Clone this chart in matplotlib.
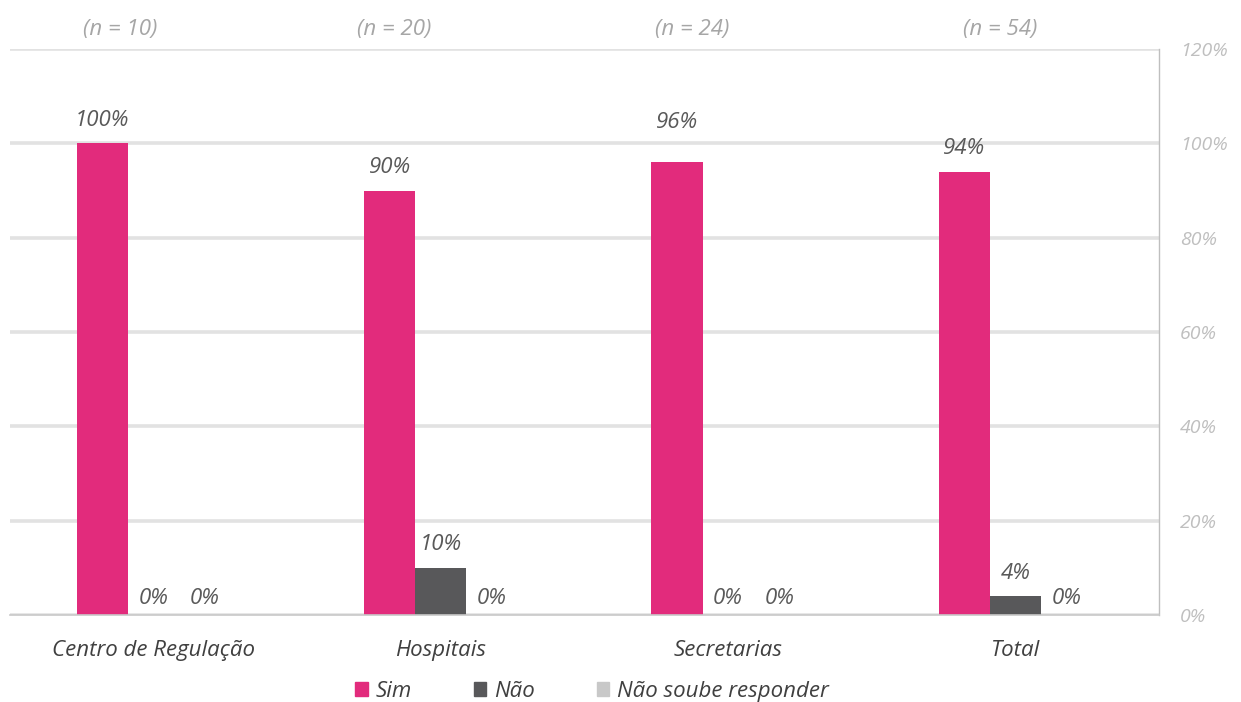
import matplotlib
matplotlib.use("Agg")
import matplotlib.pyplot as plt
from matplotlib.patches import Rectangle
from matplotlib.ticker import FuncFormatter
import numpy as np

plt.rcParams['font.family'] = ['Open Sans', 'DejaVu Sans']

categories = ["Centro de Regulação", "Hospitais", "Secretarias", "Total"]
n_labels = ["(n = 10)", "(n = 20)", "(n = 24)", "(n = 54)"]
series_names = ["Sim", "Não", "Não soube responder"]
sim = [100, 90, 96, 94]
nao = [0, 10, 0, 4]
nsr = [0, 0, 0, 0]
yticks = [0, 20, 40, 60, 80, 100, 120]

colors = ["#E22B7C", "#58585A", "#C8C8C8"]
series = [sim, nao, nsr]

fig = plt.figure(figsize=(12.41, 7.02), dpi=100)
ax = fig.add_axes([0.008, 0.124, 0.926, 0.806])

x = np.arange(len(categories))
w = 0.178
offsets = [-w, 0, w]
label_color = "#595959"
for s, vals, col, off in zip(series_names, series, colors, offsets):
    ax.bar(x + off, vals, width=w, color=col, zorder=3, label=s)
    for xi, v in zip(x + off, vals):
        dy = 9 if v > 0 else 12
        if s == "Sim" and v == 96:
            dy = 21
        ax.annotate(f"{v}%", (xi, v), xytext=(0, dy), textcoords="offset points",
                    ha="center", va="bottom" if v > 0 else "center",
                    fontsize=16, style="italic", color=label_color, zorder=4)

ax.set_xlim(-0.5, 3.5)
ax.set_ylim(0, 120)
ax.yaxis.tick_right()
ax.set_yticks(yticks)
ax.yaxis.set_major_formatter(FuncFormatter(lambda v, p: f"{int(v)}%"))
ax.tick_params(axis="y", length=0, pad=15, labelsize=14, labelcolor="#BFBFBF")
for lab in ax.get_yticklabels():
    lab.set_style("italic")
ax.set_xticks(x)
ax.set_xticklabels(categories, fontsize=16, style="italic", color="#404040")
ax.tick_params(axis="x", length=0, pad=18)

ax.grid(axis="y", color="#E2E2E2", linewidth=2.6, zorder=0)
for sp in ["top", "left"]:
    ax.spines[sp].set_visible(False)
ax.spines["bottom"].set_color("#C8C8C8")
ax.spines["bottom"].set_linewidth(1.2)
ax.spines["right"].set_color("#BFBFBF")
ax.spines["right"].set_linewidth(1.0)
ax.spines["bottom"].set_zorder(5)

n_pos = [-0.115, 0.836, 1.875, 2.948]
for px, t in zip(n_pos, n_labels):
    ax.text(px, 1.035, t, transform=ax.get_xaxis_transform(), ha="center", va="center",
            fontsize=16, style="italic", color="#A6A6A6")

handles = [Rectangle((0, 0), 1, 1, color=c) for c in colors]
leg = fig.legend(handles, series_names, loc="center", bbox_to_anchor=(0.477, 0.015),
                 ncol=3, frameon=False, handlelength=0.55, handleheight=0.55,
                 handletextpad=0.35, columnspacing=2.8,
                 prop={"size": 16, "style": "italic"})
for t in leg.get_texts():
    t.set_color("#404040")

fig.savefig("out.png", dpi=100)
